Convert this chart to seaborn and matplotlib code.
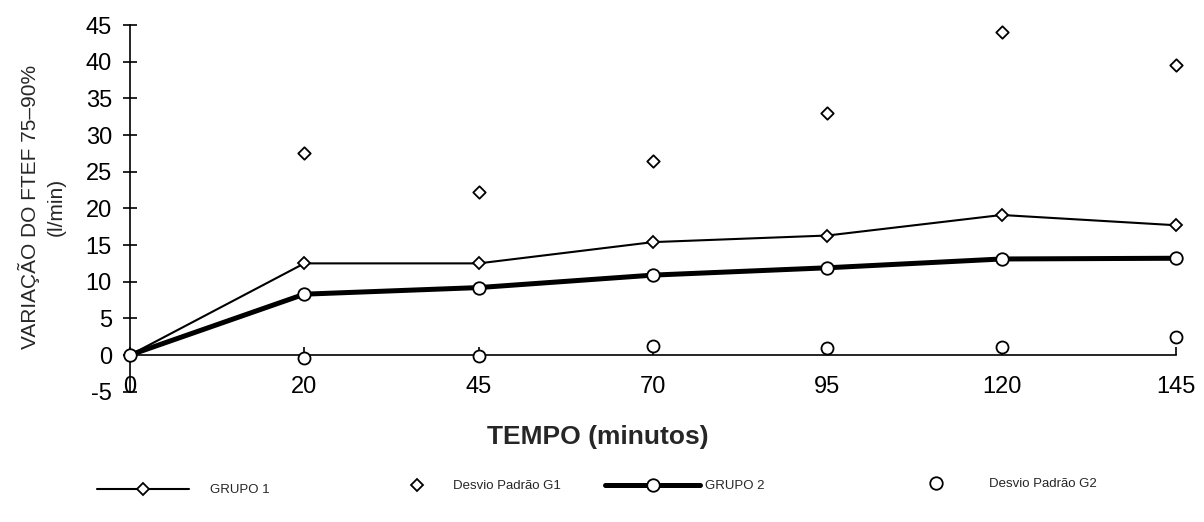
import matplotlib
matplotlib.use("Agg")
import matplotlib.pyplot as plt
import seaborn as sns
import pandas as pd
from matplotlib.lines import Line2D

# ---- data ----
tempo = ["0", "20", "45", "70", "95", "120", "145"]
grupo1 = [0.0, 12.5, 12.5, 15.4, 16.3, 19.1, 17.7]
desvio_g1 = [None, 27.5, 22.3, 26.5, 33.0, 44.0, 39.6]
grupo2 = [0.0, 8.3, 9.2, 10.9, 11.9, 13.1, 13.2]
desvio_g2 = [None, -0.4, -0.1, 1.3, 0.9, 1.1, 2.4]
y_ticks = [-5, 0, 5, 10, 15, 20, 25, 30, 35, 40, 45]

df = pd.DataFrame({
    "pos": list(range(len(tempo))),
    "grupo1": grupo1,
    "desvio_g1": desvio_g1,
    "grupo2": grupo2,
    "desvio_g2": desvio_g2,
})

sns.set_style("white")
plt.rcParams["font.family"] = ["Liberation Sans", "DejaVu Sans"]
plt.rcParams["axes.unicode_minus"] = False

W, H = 1204, 522
fig = plt.figure(figsize=(W / 100, H / 100), dpi=100)
ax = fig.add_axes([0.10073, 0.2496, 0.8905, 0.7024])

sns.lineplot(data=df, x="pos", y="grupo1", ax=ax, color="black", linewidth=1.5,
             marker="D", markersize=6, markerfacecolor="white",
             markeredgecolor="black", markeredgewidth=1.3, zorder=3,
             label="GRUPO 1", legend=False)
sns.lineplot(data=df, x="pos", y="grupo2", ax=ax, color="black", linewidth=3.6,
             marker="o", markersize=9, markerfacecolor="white",
             markeredgecolor="black", markeredgewidth=1.3, zorder=4,
             label="GRUPO 2", legend=False)
sns.scatterplot(data=df, x="pos", y="desvio_g1", ax=ax, marker="D", s=40,
                facecolor="white", edgecolor="black", linewidth=1.3, zorder=3,
                legend=False)
sns.scatterplot(data=df, x="pos", y="desvio_g2", ax=ax, marker="o", s=75,
                facecolor="white", edgecolor="black", linewidth=1.3, zorder=3,
                legend=False)

ax.set_xlim(-0.05, 6.1)
ax.set_ylim(-5, 45)
ax.set_xticks(df["pos"])
ax.set_xticklabels(tempo)
ax.set_yticks(y_ticks)

for s in ["top", "right"]:
    ax.spines[s].set_visible(False)
ax.spines["left"].set_position(("data", 0))
ax.spines["bottom"].set_position(("data", 0))
ax.spines["left"].set_bounds(-5, 45)
ax.spines["bottom"].set_bounds(0, 6)
for s in ["left", "bottom"]:
    ax.spines[s].set_linewidth(1.2)
    ax.spines[s].set_color("black")
    ax.spines[s].set_zorder(2)

ax.tick_params(axis="y", direction="inout", length=10, width=1.2, pad=8,
               labelsize=17, colors="black", left=True)
ax.tick_params(axis="x", direction="in", length=6, width=1.2, pad=15,
               labelsize=17, colors="black", bottom=True)

ax.set_ylabel("VARIAÇÃO DO FTEF 75–90%\n(l/min)", fontsize=15, linespacing=1.45)
ax.yaxis.set_label_coords(-0.052, 0.504)
ax.set_xlabel("")

fig.text(598 / W, 1 - 437 / H, "TEMPO (minutos)", ha="center", va="center",
         fontsize=19, fontweight="bold")

# ---- legend, one entry per block as in the reference ----
h1 = Line2D([], [], color="black", linewidth=1.5, marker="D", markersize=6,
            markerfacecolor="white", markeredgecolor="black", markeredgewidth=1.3)
h2 = Line2D([], [], linestyle="none", marker="D", markersize=6.5,
            markerfacecolor="white", markeredgecolor="black", markeredgewidth=1.3)
h3 = Line2D([], [], color="black", linewidth=3.6, marker="o", markersize=9,
            markerfacecolor="white", markeredgecolor="black", markeredgewidth=1.3)
h4 = Line2D([], [], linestyle="none", marker="o", markersize=9,
            markerfacecolor="white", markeredgecolor="black", markeredgewidth=1.3)

entries = [
    (h1, "GRUPO 1", 97, 490, 7.0, 1.6),
    (h2, "Desvio Padrão G1", 404, 486, 2.0, 1.7),
    (h3, "GRUPO 2", 605, 486, 7.2, 0.4),
    (h4, "Desvio Padrão G2", 923, 484, 2.0, 3.0),
]
for h, lab, xp, yp, hl, tp in entries:
    fig.legend([h], [lab], loc="center left", bbox_to_anchor=(xp / W, 1 - yp / H),
               frameon=False, fontsize=9.5, handlelength=hl, handletextpad=tp,
               borderpad=0, borderaxespad=0)

fig.savefig("out.png", dpi=100, facecolor="white")
